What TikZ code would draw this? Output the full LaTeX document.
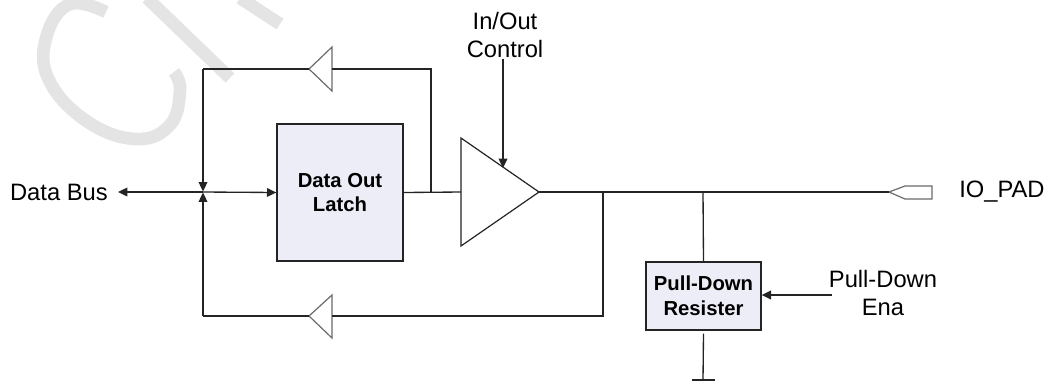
\documentclass[tikz,border=0pt]{standalone}
\usepackage{fontspec}
\setmainfont{Liberation Sans}
\usetikzlibrary{arrows.meta}
\definecolor{wire}{HTML}{242424}
\definecolor{bufcol}{HTML}{6A6A6A}
\definecolor{boxfill}{HTML}{EDEDF7}
\definecolor{wmark}{HTML}{E4E4E4}
\tikzset{
  wireln/.style={draw=wire, line width=1pt},
  bufln/.style={draw=bufcol, line width=0.9pt, line join=miter},
  tip/.style={-{Triangle[length=7pt,width=6.5pt]}},
  blockbox/.style={draw=wire, fill=boxfill, line width=1pt, font=\fontsize{15.2}{18.5}\selectfont\bfseries, align=center, inner sep=0pt},
  lbl/.style={font=\fontsize{17.8}{21}\selectfont, align=center, inner sep=0pt},
  watermark/.style={draw=wmark, line width=9.5pt, line cap=butt}
}
\begin{document}
\begin{tikzpicture}[x=0.75pt,y=-0.75pt]
\useasboundingbox (0,0) rectangle (1049,383);
% watermark
\draw[watermark] plot[smooth, tension=0.7] coordinates {(106,12) (70,4) (47,35) (48,78) (85,120) (135,139) (170,125) (180,90) (174,72)};
\draw[watermark] (147,-2) -- (230,78);
\draw[watermark] (240,-2) -- (280,24);
% nodes
\node[blockbox, minimum width=126*0.75pt, minimum height=137*0.75pt] (latch) at (340,192.5) {Data Out\\Latch};
\node[blockbox, minimum width=115*0.75pt, minimum height=68*0.75pt] (pd) at (703.5,296) {Pull-Down\\Resister};
\node[lbl, anchor=east] (db) at (108,192) {Data Bus};
\node[lbl] (ioc) at (505,35) {In/Out\\Control};
\node[lbl] (pde) at (883,293) {Pull-Down\\Ena};
\node[lbl, anchor=west] (iopad) at (959,192) {IO\_PAD};
% coordinates
\coordinate (j) at (203,192);
\coordinate (jt) at (203,69);
\coordinate (jb) at (203,316);
\coordinate (dbl) at (118,192);
\coordinate (tbt) at (309,69);
\coordinate (tbb) at (332,69);
\coordinate (tr) at (431,69);
\coordinate (tap) at (431,192);
\coordinate (mbb) at (461,192);
\coordinate (mbt) at (539,192);
\coordinate (ctl) at (503,59);
\coordinate (ctltip) at (503,168);
\coordinate (j2) at (603,192);
\coordinate (j2b) at (603,316);
\coordinate (bbb) at (332,316);
\coordinate (bbt) at (309,316);
\coordinate (j3) at (703,192);
\coordinate (padt) at (889,192);
\coordinate (gnd) at (703,380);
\coordinate (pdein) at (832,295);
% buffers
\draw[bufln] (tbt) -- (332,47) -- (332,91) -- cycle;
\draw[bufln] (bbt) -- (332,295) -- (332,338) -- cycle;
\draw[draw=wire, line width=0.9pt] (mbt) -- (461,138) -- (461,246) -- cycle;
% pad
\draw[bufln] (padt) -- (905,186) -- (932,186) -- (932,199) -- (905,199) -- cycle;
% wires
\draw[wireln, tip] (j) -- (dbl);
\draw[wireln, tip] (j) -- (latch.west);
\draw[wireln, tip] (jt) -- ([yshift=0.4pt]j);
\draw[wireln, tip] (jb) -- ([yshift=-0.4pt]j);
\draw[wireln] (jt) -- (tbt);
\draw[wireln] (tbb) -- (tr) -- (tap);
\draw[wireln] (latch.east) -- (mbb);
\draw[wireln, tip] (ctl) -- (ctltip);
\draw[wireln] (mbt) -- (padt);
\draw[wireln] (j2) -- (j2b) -- (bbb);
\draw[wireln] (bbt) -- (jb);
\draw[wireln] (j3) -- (pd.north);
\draw[wireln] ([yshift=-3*0.75pt]pd.south) -- (gnd);
\draw[wireln] (692,380) -- (715,380);
\draw[wireln, tip] (pdein) -- (pd.east |- pdein);
\end{tikzpicture}
\end{document}
